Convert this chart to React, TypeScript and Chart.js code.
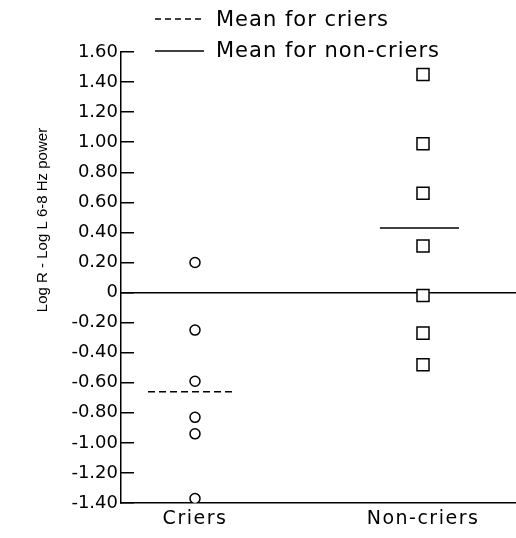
import React, { useEffect, useRef } from 'react';
import { Chart, registerables } from 'chart.js';

Chart.register(...registerables);

// ---- data ----
const categories = ['Criers', 'Non-criers'];
const criersValues = [0.2, -0.25, -0.59, -0.83, -0.94, -1.37];
const nonCriersValues = [1.45, 0.99, 0.66, 0.31, -0.02, -0.27, -0.48];
const criersMean = -0.66;
const nonCriersMean = 0.43;
const legendLabels = ['Mean for criers', 'Mean for non-criers'];
const yAxisTitle = 'Log R - Log L 6-8 Hz power';
const yMin = -1.4;
const yMax = 1.6;
const yStep = 0.2;

// ---- styling / layout constants ----
const W = 516;
const H = 538;
const FONT = "'DejaVu Sans', sans-serif";
const meanCriersExtent = [-0.206, 0.167];
const meanNonCriersExtent = [-0.189, 0.158];

const legendPlugin = {
  id: 'customLegendAndTitle',
  afterUpdate(chart: any) {
    const s: any = chart.scales.x;
    if (s && !s._lsPatched) {
      const orig = s.drawLabels.bind(s);
      s.drawLabels = (area: any) => {
        const c: any = chart.ctx;
        c.save();
        c.letterSpacing = '1.5px';
        orig(area);
        c.restore();
      };
      s._lsPatched = true;
    }
  },
  afterDraw(chart: any) {
    const ctx: any = chart.ctx;
    ctx.save();
    ctx.strokeStyle = '#000';
    ctx.lineWidth = 1.5;
    // dashed legend line
    ctx.setLineDash([6, 4]);
    ctx.beginPath();
    ctx.moveTo(155, 19);
    ctx.lineTo(204, 19);
    ctx.stroke();
    // solid legend line
    ctx.setLineDash([]);
    ctx.beginPath();
    ctx.moveTo(155, 51);
    ctx.lineTo(204, 51);
    ctx.stroke();
    ctx.fillStyle = '#000';
    ctx.font = `21px ${FONT}`;
    ctx.letterSpacing = '1px';
    ctx.textAlign = 'left';
    ctx.textBaseline = 'alphabetic';
    ctx.fillText(legendLabels[0], 216, 26);
    ctx.fillText(legendLabels[1], 216, 57);
    ctx.letterSpacing = '0px';
    // y axis title
    ctx.translate(47, 220);
    ctx.rotate(-Math.PI / 2);
    ctx.font = "15px 'Liberation Sans', sans-serif";
    ctx.textAlign = 'center';
    ctx.fillText(yAxisTitle, 0, 0);
    ctx.restore();
  },
};

export default function App() {
  const ref = useRef<HTMLCanvasElement | null>(null);

  useEffect(() => {
    document.body.style.margin = '0';
    const canvas = ref.current;
    if (!canvas) return;
    const chart = new Chart(canvas, {
      type: 'scatter',
      data: {
        datasets: [
          {
            label: categories[0],
            data: criersValues.map((v) => ({ x: 0, y: v })),
            pointStyle: 'circle',
            pointRadius: 5,
            pointBorderWidth: 1.5,
            pointBorderColor: '#000',
            pointBackgroundColor: '#fff',
          },
          {
            label: categories[1],
            data: nonCriersValues.map((v) => ({ x: 1, y: v })),
            pointStyle: 'rect',
            pointRadius: 8.5,
            pointBorderWidth: 1.5,
            pointBorderColor: '#000',
            pointBackgroundColor: '#fff',
          },
          {
            label: legendLabels[0],
            data: meanCriersExtent.map((dx) => ({ x: 0 + dx, y: criersMean })),
            showLine: true,
            borderColor: '#000',
            borderWidth: 1.5,
            borderDash: [7, 4],
            pointRadius: 0,
          },
          {
            label: legendLabels[1],
            data: meanNonCriersExtent.map((dx) => ({ x: 1 + dx, y: nonCriersMean })),
            showLine: true,
            borderColor: '#000',
            borderWidth: 1.5,
            pointRadius: 0,
          },
        ],
      },
      options: {
        responsive: false,
        animation: false,
        layout: { autoPadding: false, padding: { top: 52, left: 0, right: 0, bottom: 0 } },
        plugins: { legend: { display: false }, tooltip: { enabled: false } },
        scales: {
          x: {
            type: 'linear',
            min: -74 / 228,
            max: 1 + 93 / 228,
            afterBuildTicks: (scale: any) => {
              scale.ticks = categories.map((_, i) => ({ value: i }));
            },
            afterFit: (scale: any) => {
              scale.height = 35;
              scale.paddingLeft = 0;
              scale.paddingRight = 0;
            },
            grid: { display: false, drawTicks: false },
            border: { display: true, color: '#000', width: 1.5 },
            ticks: {
              color: '#000',
              padding: 5,
              font: { family: FONT, size: 19 },
              callback: (v: any) => categories[Math.round(Number(v))] ?? '',
              maxRotation: 0,
              autoSkip: false,
            },
          },
          y: {
            type: 'linear',
            min: yMin,
            max: yMax,
            afterFit: (scale: any) => {
              scale.width = 121;
              scale.paddingTop = 0;
              scale.paddingBottom = 0;
            },
            grid: {
              display: true,
              drawOnChartArea: true,
              drawTicks: true,
              tickLength: -13,
              tickWidth: 1.5,
              tickColor: '#000',
              lineWidth: 1.5,
              color: (ctx: any) =>
                ctx.tick && Math.abs(ctx.tick.value) < 1e-9 ? '#000' : 'rgba(0,0,0,0)',
            },
            border: { display: true, color: '#000', width: 1.5 },
            ticks: {
              stepSize: yStep,
              color: '#000',
              padding: 16,
              font: { family: FONT, size: 18 },
              callback: (v: any) => (Math.abs(Number(v)) < 1e-9 ? '0' : Number(v).toFixed(2)),
            },
          },
        },
      },
      plugins: [legendPlugin],
    } as any);
    return () => chart.destroy();
  }, []);

  return (
    <div style={{ position: 'absolute', left: 0, top: 0, width: W, height: H, background: '#fff' }}>
      <canvas ref={ref} width={W} height={H} style={{ display: 'block' }} />
    </div>
  );
}
